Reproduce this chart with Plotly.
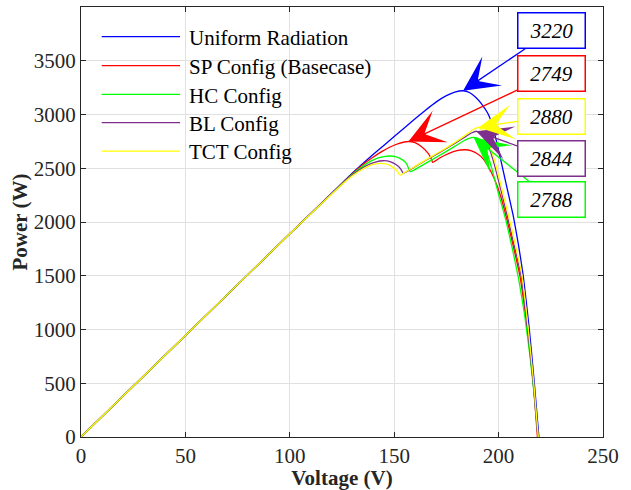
import plotly.graph_objects as go

FONT = "Liberation Serif"
AX = "#262626"

# ---------------- data ----------------
names = ["Uniform Radiation", "SP Config (Basecase)", "HC Config", "BL Config", "TCT Config"]
colors = ["#0000FF", "#FF0000", "#00FF00", "#7E2F8E", "#FFFF00"]

V_uniform = [0, 50, 100, 130, 140, 150, 160, 165, 170, 175, 179, 183, 186, 189, 192, 195, 197, 199,
             201, 204, 207, 209.5, 211.8, 214.7, 217.1, 219.3]
P_uniform = [0, 945, 1890, 2455, 2630, 2795, 2960, 3040, 3115, 3175, 3208, 3221, 3205, 3160, 3095, 3005,
             2900, 2750, 2580, 2320, 2060, 1790, 1500, 1005, 505, 0]

V_sp = [0, 50, 100, 130, 135, 140, 144, 148, 152, 156.8, 160, 163, 166.3, 168, 168.4, 172, 176, 180, 184,
        187, 190, 192.5, 195.1, 198, 201, 203.5, 206.5, 210.2, 213.7, 216.6, 218.6]
P_sp = [0, 945, 1890, 2450, 2535, 2605, 2655, 2698, 2730, 2749, 2738, 2702, 2639, 2577, 2555, 2598, 2636,
        2664, 2672, 2662, 2632, 2590, 2514, 2400, 2240, 2060, 1820, 1500, 1005, 505, 0]

V_hc = [0, 50, 100, 130, 135, 139, 142, 145, 148, 151, 154, 156, 157.6, 159, 165, 171, 177, 182, 185.5,
        188, 190, 192.5, 195, 197, 200, 203.5, 206.5, 209.5, 212.5, 215, 217, 218.9]
P_hc = [0, 945, 1890, 2445, 2520, 2568, 2595, 2609, 2614, 2606, 2578, 2540, 2468, 2478, 2545, 2612, 2680,
        2740, 2775, 2788, 2778, 2725, 2610, 2480, 2260, 2015, 1760, 1480, 1130, 760, 400, 0]

V_bl = [0, 50, 100, 128, 133, 137, 141, 144.8, 148, 151, 153, 154.4, 156, 162, 168, 174, 180, 184, 187,
        189.3, 192, 195, 198, 201, 204, 207, 210.8, 213.9, 216.6, 218.9]
P_bl = [0, 945, 1890, 2405, 2480, 2527, 2558, 2570, 2562, 2532, 2497, 2453, 2468, 2538, 2605, 2672, 2742,
        2792, 2828, 2844, 2815, 2712, 2535, 2305, 2070, 1820, 1500, 1005, 505, 0]

V_tct = [0, 50, 100, 128, 133, 137, 140, 143.2, 146, 149, 151, 152.8, 154, 160, 168, 174, 180, 184, 187.5,
         190.3, 193, 196, 199, 202, 205, 208, 211.2, 214.2, 216.8, 219]
P_tct = [0, 945, 1890, 2400, 2470, 2513, 2535, 2546, 2540, 2515, 2482, 2437, 2447, 2517, 2610, 2678, 2752,
         2806, 2856, 2880, 2842, 2705, 2505, 2272, 2040, 1790, 1500, 1005, 505, 0]

# peak callout labels, per series (same order as names)
peak_labels = ["3220", "2749", "2788", "2844", "2880"]
x_ticks = [0, 50, 100, 150, 200, 250]
y_ticks = [0, 500, 1000, 1500, 2000, 2500, 3000, 3500]

series = list(zip(names, [V_uniform, V_sp, V_hc, V_bl, V_tct],
                  [P_uniform, P_sp, P_hc, P_bl, P_tct], colors))

# ---------------- figure ----------------
fig = go.Figure()
for name, V, P, c in series:
    fig.add_trace(go.Scatter(x=V, y=P, mode="lines", name=name, showlegend=False,
                             line=dict(color=c, width=1.3, shape="spline", smoothing=0.4)))

# callout boxes (tail positions in data units), order matches series
box_x = 225.3
box_y = [3777, 3377, 2214, 2595, 2986]
for (name, V, P, c), lab, by in zip(series, peak_labels, box_y):
    i = max(range(len(P)), key=lambda k: P[k])
    fig.add_annotation(x=V[i], y=P[i], xref="x", yref="y", ax=box_x, ay=by, axref="x", ayref="y",
                       text=lab, showarrow=True, arrowhead=3, arrowsize=4.5, arrowwidth=1.3,
                       arrowcolor=c, bordercolor=c, borderwidth=1.5, borderpad=2, bgcolor="white",
                       width=62, height=30,
                       font=dict(family=FONT, size=21, color="black", style="italic"))

# manual legend (long sample lines as in the reference)
leg_y = [0.931, 0.8635, 0.797, 0.731, 0.665]
for (name, V, P, c), ly in zip(series, leg_y):
    fig.add_shape(type="line", xref="paper", yref="paper", x0=0.0397, x1=0.1897, y0=ly, y1=ly,
                  line=dict(color=c, width=1.3))
    fig.add_annotation(xref="paper", yref="paper", x=0.2025, y=ly - 0.003, text=name, showarrow=False,
                       xanchor="left", yanchor="middle",
                       font=dict(family=FONT, size=21, color="black"))

axis_common = dict(ticks="inside", ticklen=5, tickcolor=AX, showline=True, linecolor=AX, linewidth=1,
                   mirror="ticks", showgrid=True, gridcolor="#e0e0e0", gridwidth=1, zeroline=False,
                   automargin=False, tickfont=dict(family=FONT, size=21, color=AX))
fig.update_xaxes(range=[0, 250], tickvals=x_ticks, **axis_common,
                 title=dict(text="<b>Voltage (V)</b>", font=dict(family=FONT, size=21, color=AX), standoff=2))
fig.update_yaxes(range=[0, 4000], tickvals=y_ticks, **axis_common,
                 title=dict(text="<b>Power (W)</b>", font=dict(family=FONT, size=21, color=AX), standoff=0))

fig.update_layout(width=631, height=490, margin=dict(l=81, r=28, t=7, b=53),
                  plot_bgcolor="white", paper_bgcolor="white", template="none")

fig.write_html("out.html")
